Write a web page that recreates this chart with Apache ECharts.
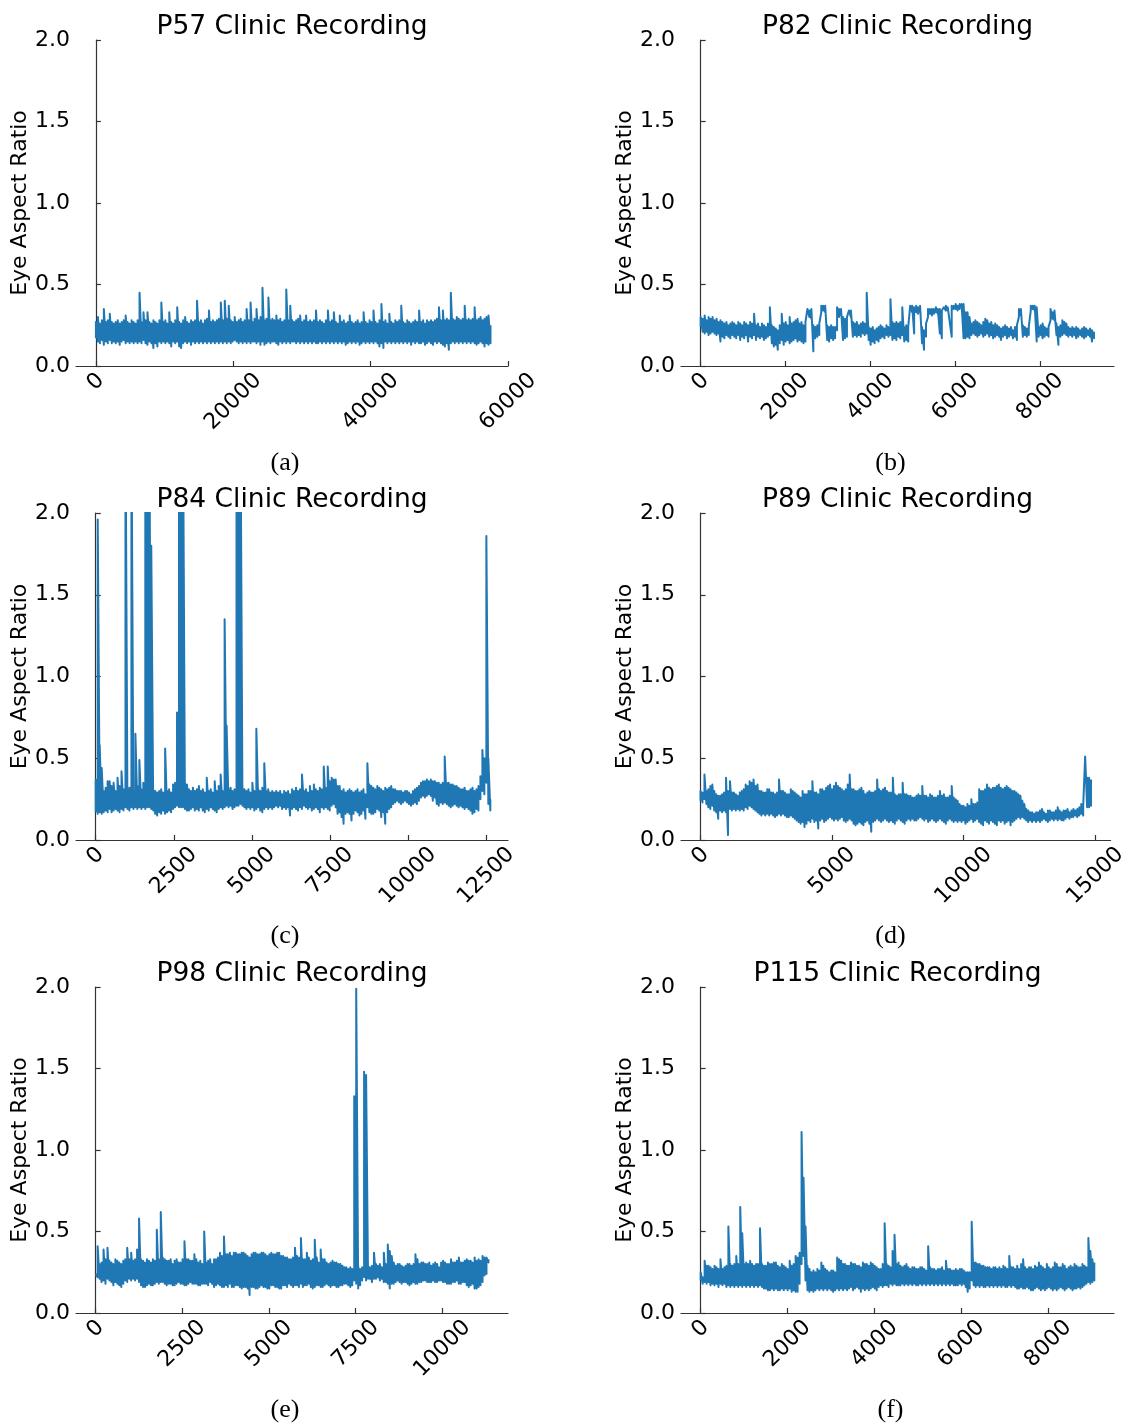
<!DOCTYPE html>
<html>
<head>
<meta charset="utf-8">
<title>Clinic Recordings - Eye Aspect Ratio</title>
<script src="https://cdn.jsdelivr.net/npm/echarts@6/dist/echarts.min.js"></script>
<style>
  html, body { margin: 0; padding: 0; background: #fff; }
  #chart { width: 1130px; height: 1425px; }
</style>
</head>
<body>
<div id="chart"></div>
<script>
// Eye aspect ratio per recording, summarised in 200 equal time bins:
// *Lo = lowest value in the bin, *Hi = highest value in the bin.
const p57Lo = [
  0.17,0.15,0.14,0.16,0.13,0.15,0.14,0.16,0.14,0.15, 0.14,0.15,0.13,0.15,0.16,0.14,0.15,0.14,0.15,0.14,
  0.15,0.14,0.15,0.14,0.16,0.14,0.13,0.15,0.14,0.11, 0.14,0.12,0.15,0.14,0.15,0.14,0.15,0.14,0.12,0.15,
  0.14,0.15,0.12,0.11,0.14,0.15,0.14,0.15,0.13,0.15, 0.14,0.15,0.14,0.15,0.14,0.15,0.14,0.15,0.14,0.15,
  0.14,0.15,0.14,0.15,0.14,0.15,0.14,0.15,0.14,0.15, 0.16,0.15,0.14,0.15,0.14,0.15,0.14,0.15,0.14,0.15,
  0.15,0.14,0.15,0.13,0.15,0.13,0.14,0.15,0.14,0.15, 0.15,0.14,0.13,0.15,0.14,0.15,0.14,0.15,0.14,0.15,
  0.15,0.14,0.15,0.14,0.15,0.14,0.15,0.14,0.15,0.14, 0.15,0.14,0.14,0.15,0.14,0.15,0.14,0.15,0.14,0.15,
  0.14,0.15,0.14,0.15,0.14,0.15,0.13,0.14,0.15,0.14, 0.15,0.14,0.15,0.13,0.14,0.15,0.14,0.15,0.14,0.15,
  0.14,0.15,0.14,0.12,0.14,0.11,0.15,0.14,0.15,0.14, 0.15,0.14,0.15,0.14,0.15,0.14,0.15,0.14,0.15,0.13,
  0.15,0.14,0.15,0.14,0.14,0.15,0.13,0.14,0.15,0.14, 0.13,0.15,0.14,0.15,0.14,0.13,0.12,0.14,0.10,0.14,
  0.15,0.14,0.15,0.14,0.15,0.14,0.15,0.14,0.15,0.14, 0.15,0.14,0.13,0.14,0.15,0.14,0.12,0.14,0.13,0.14
];
const p57Hi = [
  0.27,0.30,0.26,0.28,0.35,0.27,0.28,0.32,0.27,0.26, 0.27,0.28,0.26,0.27,0.28,0.31,0.27,0.26,0.28,0.27,
  0.26,0.28,0.45,0.27,0.33,0.28,0.33,0.27,0.26,0.28, 0.27,0.26,0.28,0.39,0.27,0.28,0.26,0.33,0.27,0.26,
  0.28,0.36,0.27,0.26,0.28,0.30,0.27,0.26,0.28,0.27, 0.28,0.40,0.27,0.28,0.26,0.28,0.29,0.34,0.27,0.28,
  0.27,0.28,0.29,0.39,0.28,0.40,0.29,0.37,0.28,0.27, 0.30,0.27,0.28,0.29,0.27,0.28,0.35,0.28,0.39,0.27,
  0.29,0.35,0.28,0.30,0.48,0.28,0.29,0.42,0.28,0.29, 0.28,0.31,0.28,0.29,0.27,0.28,0.47,0.28,0.37,0.28,
  0.27,0.28,0.29,0.31,0.27,0.28,0.31,0.27,0.28,0.27, 0.28,0.34,0.27,0.28,0.27,0.26,0.28,0.34,0.27,0.28,
  0.33,0.27,0.26,0.31,0.27,0.28,0.26,0.27,0.31,0.27, 0.26,0.27,0.28,0.26,0.27,0.33,0.27,0.26,0.28,0.27,
  0.34,0.27,0.26,0.28,0.38,0.27,0.28,0.26,0.32,0.27, 0.26,0.28,0.27,0.28,0.37,0.27,0.26,0.28,0.27,0.26,
  0.27,0.28,0.27,0.34,0.27,0.28,0.26,0.28,0.27,0.28, 0.27,0.28,0.29,0.36,0.28,0.34,0.28,0.29,0.28,0.45,
  0.29,0.28,0.30,0.29,0.28,0.29,0.37,0.28,0.29,0.28, 0.29,0.36,0.28,0.29,0.30,0.28,0.29,0.30,0.31,0.25
];
const p82Lo = [
  0.24,0.21,0.20,0.21,0.19,0.20,0.21,0.20,0.19,0.20, 0.15,0.18,0.17,0.19,0.18,0.17,0.19,0.18,0.17,0.19,
  0.16,0.18,0.17,0.19,0.15,0.18,0.17,0.19,0.16,0.18, 0.17,0.18,0.16,0.17,0.18,0.19,0.14,0.12,0.13,0.10,
  0.14,0.16,0.13,0.15,0.16,0.14,0.15,0.16,0.17,0.15, 0.16,0.15,0.14,0.15,0.28,0.30,0.29,0.09,0.17,0.18,
  0.19,0.33,0.34,0.33,0.16,0.15,0.17,0.16,0.17,0.22, 0.30,0.31,0.16,0.17,0.18,0.29,0.30,0.18,0.19,0.18,
  0.19,0.18,0.20,0.19,0.20,0.16,0.13,0.15,0.14,0.16, 0.15,0.17,0.18,0.17,0.19,0.18,0.19,0.16,0.17,0.16,
  0.18,0.17,0.19,0.15,0.16,0.15,0.25,0.33,0.20,0.33, 0.32,0.33,0.14,0.10,0.18,0.30,0.32,0.31,0.32,0.33,
  0.32,0.20,0.17,0.33,0.34,0.34,0.35,0.18,0.35,0.35, 0.34,0.35,0.36,0.17,0.17,0.18,0.17,0.19,0.20,0.19,
  0.18,0.19,0.20,0.18,0.19,0.20,0.18,0.19,0.17,0.18, 0.19,0.18,0.16,0.18,0.19,0.17,0.18,0.19,0.17,0.18,
  0.16,0.30,0.31,0.18,0.19,0.18,0.19,0.34,0.35,0.34, 0.15,0.18,0.19,0.17,0.18,0.19,0.18,0.28,0.29,0.28,
  0.19,0.13,0.18,0.19,0.20,0.19,0.18,0.19,0.18,0.19, 0.17,0.18,0.19,0.18,0.17,0.18,0.19,0.18,0.15,0.17
];
const p82Hi = [
  0.30,0.29,0.31,0.28,0.30,0.29,0.30,0.28,0.29,0.27, 0.28,0.27,0.26,0.27,0.25,0.26,0.27,0.26,0.25,0.27,
  0.26,0.25,0.27,0.26,0.25,0.27,0.26,0.32,0.25,0.26, 0.24,0.26,0.25,0.24,0.26,0.36,0.25,0.24,0.23,0.22,
  0.25,0.32,0.26,0.27,0.25,0.30,0.26,0.27,0.28,0.29, 0.26,0.27,0.25,0.27,0.35,0.34,0.35,0.25,0.24,0.25,
  0.26,0.37,0.37,0.37,0.25,0.24,0.25,0.24,0.24,0.36, 0.35,0.35,0.30,0.29,0.30,0.34,0.34,0.27,0.26,0.27,
  0.25,0.26,0.27,0.26,0.45,0.24,0.23,0.24,0.22,0.23, 0.24,0.25,0.24,0.23,0.25,0.24,0.41,0.27,0.26,0.27,
  0.26,0.27,0.36,0.24,0.25,0.24,0.37,0.37,0.36,0.37, 0.36,0.37,0.24,0.22,0.26,0.35,0.35,0.35,0.35,0.36,
  0.35,0.35,0.34,0.36,0.37,0.36,0.37,0.37,0.37,0.38, 0.37,0.38,0.38,0.38,0.33,0.33,0.30,0.26,0.27,0.28,
  0.27,0.26,0.25,0.27,0.29,0.28,0.26,0.27,0.25,0.26, 0.25,0.24,0.23,0.24,0.25,0.24,0.23,0.24,0.22,0.24,
  0.25,0.35,0.35,0.25,0.24,0.23,0.24,0.37,0.37,0.37, 0.36,0.24,0.25,0.26,0.24,0.23,0.24,0.35,0.33,0.34,
  0.26,0.24,0.25,0.28,0.27,0.26,0.24,0.23,0.24,0.23, 0.24,0.23,0.22,0.23,0.24,0.23,0.22,0.23,0.22,0.21
];
const p84Lo = [
  0.17,0.16,0.17,0.16,0.17,0.18,0.17,0.19,0.17,0.18, 0.19,0.18,0.17,0.19,0.18,0.20,0.19,0.18,0.20,0.19,
  0.20,0.19,0.20,0.19,0.20,0.19,0.20,0.20,0.19,0.18, 0.16,0.15,0.17,0.16,0.18,0.16,0.17,0.18,0.17,0.19,
  0.20,0.21,0.20,0.20,0.20,0.19,0.18,0.18,0.19,0.20, 0.18,0.19,0.18,0.20,0.18,0.17,0.19,0.18,0.20,0.19,
  0.18,0.17,0.19,0.20,0.19,0.20,0.21,0.20,0.21,0.19, 0.20,0.21,0.21,0.22,0.21,0.20,0.19,0.20,0.19,0.20,
  0.18,0.19,0.20,0.18,0.17,0.19,0.20,0.19,0.20,0.19, 0.20,0.21,0.20,0.21,0.19,0.20,0.19,0.20,0.15,0.19,
  0.20,0.19,0.18,0.20,0.19,0.21,0.20,0.19,0.20,0.18, 0.19,0.20,0.19,0.17,0.20,0.19,0.20,0.19,0.18,0.21,
  0.22,0.20,0.16,0.17,0.14,0.10,0.16,0.17,0.16,0.12, 0.16,0.18,0.17,0.15,0.16,0.18,0.13,0.20,0.17,0.16,
  0.16,0.17,0.19,0.18,0.14,0.17,0.10,0.17,0.19,0.20, 0.22,0.23,0.24,0.23,0.22,0.23,0.24,0.23,0.22,0.21,
  0.22,0.23,0.22,0.24,0.26,0.27,0.26,0.27,0.28,0.27, 0.24,0.26,0.22,0.21,0.23,0.22,0.23,0.22,0.21,0.20,
  0.21,0.22,0.21,0.20,0.21,0.20,0.19,0.20,0.19,0.18, 0.16,0.17,0.19,0.18,0.25,0.30,0.28,0.35,0.22,0.18
];
const p84Hi = [
  0.37,1.96,0.58,0.44,0.30,0.32,0.36,0.36,0.33,0.35, 0.30,0.38,0.33,0.42,0.31,2.60,0.31,0.32,2.60,0.30,
  0.65,0.33,0.49,0.31,0.35,2.60,2.60,2.60,1.80,0.31, 0.30,0.29,0.30,0.31,0.29,0.56,0.30,0.31,0.29,0.34,
  0.35,0.78,2.60,2.60,2.60,0.35,0.34,0.31,0.30,0.32, 0.30,0.31,0.33,0.30,0.31,0.29,0.38,0.30,0.31,0.29,
  0.36,0.30,0.33,0.40,0.30,1.35,0.70,0.31,0.32,0.30, 0.31,2.60,2.60,2.60,0.32,0.31,0.30,0.31,0.29,0.35,
  0.30,0.68,0.31,0.30,0.32,0.47,0.30,0.31,0.29,0.30, 0.29,0.30,0.29,0.30,0.28,0.30,0.29,0.30,0.28,0.31,
  0.30,0.32,0.30,0.31,0.40,0.30,0.31,0.29,0.33,0.30, 0.34,0.31,0.30,0.32,0.31,0.45,0.32,0.45,0.36,0.38,
  0.37,0.37,0.33,0.33,0.30,0.31,0.29,0.30,0.31,0.30, 0.29,0.30,0.31,0.29,0.30,0.31,0.28,0.47,0.34,0.33,
  0.32,0.31,0.33,0.32,0.31,0.30,0.32,0.31,0.32,0.33, 0.31,0.31,0.30,0.30,0.30,0.29,0.30,0.30,0.29,0.28,
  0.30,0.31,0.32,0.33,0.35,0.36,0.36,0.37,0.36,0.37, 0.36,0.36,0.35,0.35,0.34,0.35,0.51,0.35,0.35,0.34,
  0.34,0.33,0.33,0.32,0.31,0.31,0.32,0.30,0.30,0.31, 0.32,0.30,0.31,0.33,0.39,0.55,0.50,1.86,0.50,0.25
];
const p89Lo = [
  0.24,0.23,0.25,0.22,0.20,0.19,0.21,0.18,0.17,0.13, 0.18,0.17,0.18,0.17,0.03,0.19,0.18,0.19,0.18,0.19,
  0.18,0.19,0.18,0.20,0.19,0.21,0.20,0.19,0.18,0.17, 0.16,0.15,0.16,0.15,0.16,0.15,0.16,0.15,0.14,0.15,
  0.16,0.15,0.16,0.15,0.14,0.14,0.15,0.14,0.13,0.12, 0.11,0.10,0.11,0.08,0.10,0.12,0.11,0.13,0.11,0.12,
  0.07,0.12,0.13,0.11,0.12,0.13,0.14,0.13,0.12,0.13, 0.12,0.13,0.14,0.12,0.11,0.12,0.13,0.12,0.10,0.09,
  0.10,0.11,0.10,0.09,0.11,0.12,0.10,0.05,0.11,0.12, 0.13,0.12,0.11,0.12,0.13,0.12,0.11,0.12,0.11,0.10,
  0.12,0.13,0.12,0.11,0.10,0.12,0.13,0.12,0.13,0.12, 0.12,0.13,0.14,0.13,0.12,0.13,0.11,0.12,0.13,0.12,
  0.11,0.12,0.13,0.12,0.11,0.10,0.12,0.13,0.12,0.11, 0.12,0.11,0.12,0.11,0.12,0.10,0.11,0.12,0.13,0.11,
  0.12,0.13,0.11,0.10,0.09,0.12,0.11,0.10,0.12,0.11, 0.10,0.09,0.12,0.11,0.12,0.10,0.11,0.12,0.09,0.11,
  0.12,0.13,0.14,0.13,0.14,0.13,0.12,0.11,0.12,0.11, 0.12,0.11,0.12,0.11,0.12,0.13,0.12,0.11,0.12,0.13,
  0.12,0.13,0.12,0.13,0.12,0.12,0.13,0.14,0.13,0.14, 0.14,0.15,0.14,0.15,0.16,0.15,0.20,0.20,0.20,0.21
];
const p89Hi = [
  0.30,0.29,0.40,0.30,0.31,0.33,0.34,0.30,0.28,0.27, 0.27,0.28,0.29,0.38,0.30,0.36,0.29,0.29,0.28,0.27,
  0.29,0.30,0.31,0.34,0.33,0.36,0.35,0.37,0.33,0.34, 0.30,0.30,0.29,0.29,0.31,0.31,0.29,0.29,0.28,0.29,
  0.37,0.30,0.30,0.29,0.28,0.28,0.31,0.30,0.29,0.28, 0.27,0.26,0.30,0.28,0.28,0.30,0.30,0.36,0.29,0.29,
  0.28,0.31,0.31,0.30,0.32,0.33,0.34,0.31,0.33,0.35, 0.33,0.32,0.31,0.30,0.31,0.34,0.40,0.31,0.31,0.30,
  0.30,0.31,0.32,0.30,0.28,0.29,0.30,0.29,0.29,0.30, 0.37,0.31,0.30,0.31,0.32,0.30,0.29,0.29,0.38,0.28,
  0.27,0.28,0.28,0.35,0.28,0.28,0.27,0.27,0.26,0.26, 0.27,0.28,0.27,0.33,0.27,0.27,0.26,0.28,0.27,0.26,
  0.26,0.27,0.30,0.27,0.28,0.26,0.26,0.27,0.33,0.26, 0.25,0.24,0.22,0.21,0.21,0.20,0.22,0.21,0.25,0.22,
  0.22,0.23,0.31,0.30,0.30,0.31,0.34,0.32,0.31,0.32, 0.32,0.33,0.34,0.32,0.31,0.32,0.33,0.32,0.31,0.30,
  0.30,0.29,0.28,0.27,0.24,0.22,0.19,0.18,0.17,0.17, 0.16,0.17,0.17,0.18,0.19,0.17,0.16,0.18,0.18,0.17,
  0.17,0.18,0.20,0.18,0.17,0.18,0.18,0.19,0.17,0.18, 0.19,0.18,0.19,0.20,0.22,0.21,0.51,0.38,0.38,0.37
];
const p98Lo = [
  0.24,0.22,0.21,0.19,0.20,0.18,0.21,0.20,0.19,0.17, 0.19,0.18,0.17,0.16,0.18,0.20,0.19,0.21,0.20,0.21,
  0.20,0.21,0.19,0.17,0.16,0.16,0.17,0.18,0.17,0.17, 0.18,0.19,0.18,0.19,0.19,0.18,0.17,0.18,0.18,0.17,
  0.17,0.18,0.19,0.18,0.18,0.17,0.17,0.18,0.19,0.18, 0.18,0.18,0.17,0.17,0.18,0.18,0.18,0.17,0.19,0.18,
  0.16,0.17,0.18,0.17,0.16,0.16,0.17,0.16,0.18,0.16, 0.16,0.17,0.17,0.16,0.15,0.16,0.16,0.15,0.11,0.16,
  0.16,0.15,0.15,0.16,0.17,0.16,0.16,0.15,0.15,0.17, 0.17,0.16,0.16,0.15,0.15,0.17,0.17,0.16,0.18,0.17,
  0.16,0.17,0.17,0.16,0.18,0.16,0.17,0.17,0.18,0.16, 0.15,0.16,0.17,0.17,0.16,0.16,0.17,0.18,0.17,0.16,
  0.17,0.17,0.16,0.16,0.17,0.17,0.18,0.18,0.17,0.16, 0.17,0.20,0.18,0.15,0.17,0.20,0.22,0.20,0.21,0.21,
  0.19,0.21,0.21,0.22,0.20,0.21,0.19,0.19,0.18,0.15, 0.18,0.18,0.19,0.20,0.19,0.18,0.19,0.19,0.18,0.17,
  0.18,0.19,0.18,0.18,0.19,0.19,0.20,0.20,0.19,0.19, 0.19,0.20,0.19,0.19,0.20,0.20,0.19,0.19,0.18,0.18,
  0.18,0.19,0.19,0.20,0.18,0.18,0.19,0.19,0.17,0.16, 0.17,0.18,0.15,0.15,0.16,0.17,0.19,0.23,0.24,0.31
];
const p98Hi = [
  0.25,0.41,0.30,0.31,0.39,0.33,0.40,0.32,0.31,0.30, 0.33,0.32,0.31,0.30,0.32,0.33,0.40,0.33,0.37,0.32,
  0.33,0.39,0.58,0.33,0.32,0.31,0.33,0.32,0.31,0.33, 0.32,0.51,0.33,0.62,0.34,0.33,0.32,0.32,0.33,0.30,
  0.32,0.33,0.31,0.31,0.33,0.44,0.33,0.33,0.32,0.32, 0.36,0.33,0.31,0.32,0.30,0.50,0.31,0.32,0.33,0.30,
  0.33,0.33,0.34,0.37,0.35,0.47,0.36,0.36,0.37,0.35, 0.37,0.37,0.36,0.36,0.37,0.37,0.36,0.35,0.34,0.36,
  0.37,0.37,0.36,0.36,0.37,0.37,0.36,0.35,0.36,0.37, 0.36,0.36,0.37,0.37,0.35,0.35,0.34,0.34,0.33,0.33,
  0.34,0.40,0.35,0.34,0.46,0.33,0.33,0.37,0.34,0.32, 0.33,0.45,0.34,0.31,0.39,0.33,0.33,0.31,0.30,0.31,
  0.32,0.31,0.31,0.30,0.30,0.29,0.28,0.28,0.27,0.28, 0.27,1.33,1.99,0.29,0.27,0.28,1.48,1.46,0.29,0.28,
  0.29,0.37,0.30,0.29,0.30,0.28,0.37,0.30,0.42,0.38, 0.35,0.31,0.29,0.30,0.30,0.29,0.28,0.29,0.30,0.30,
  0.29,0.30,0.36,0.33,0.30,0.31,0.31,0.30,0.30,0.31, 0.29,0.30,0.31,0.30,0.28,0.31,0.32,0.31,0.30,0.30,
  0.33,0.31,0.31,0.32,0.34,0.31,0.31,0.32,0.33,0.32, 0.32,0.31,0.34,0.32,0.33,0.32,0.35,0.34,0.34,0.33
];
const p115Lo = [
  0.20,0.18,0.19,0.18,0.19,0.17,0.18,0.17,0.18,0.16, 0.18,0.17,0.18,0.16,0.17,0.16,0.17,0.16,0.17,0.16,
  0.17,0.16,0.17,0.16,0.17,0.16,0.17,0.16,0.17,0.16, 0.17,0.16,0.15,0.15,0.14,0.14,0.15,0.14,0.15,0.14,
  0.14,0.15,0.14,0.15,0.14,0.15,0.13,0.14,0.13,0.13, 0.18,0.30,0.35,0.20,0.14,0.13,0.14,0.13,0.14,0.15,
  0.14,0.15,0.14,0.15,0.14,0.15,0.14,0.13,0.14,0.15, 0.14,0.15,0.14,0.15,0.14,0.15,0.16,0.14,0.15,0.16,
  0.15,0.13,0.15,0.14,0.15,0.14,0.15,0.16,0.15,0.14, 0.16,0.17,0.16,0.17,0.17,0.16,0.18,0.17,0.18,0.17,
  0.17,0.17,0.18,0.17,0.18,0.17,0.18,0.17,0.18,0.17, 0.17,0.18,0.17,0.18,0.17,0.18,0.17,0.18,0.17,0.18,
  0.17,0.18,0.17,0.18,0.17,0.18,0.17,0.18,0.17,0.17, 0.17,0.18,0.17,0.18,0.16,0.13,0.15,0.20,0.17,0.16,
  0.17,0.16,0.17,0.16,0.16,0.17,0.16,0.17,0.16,0.17, 0.16,0.17,0.16,0.17,0.16,0.16,0.17,0.16,0.17,0.16,
  0.15,0.15,0.16,0.15,0.15,0.16,0.15,0.14,0.14,0.15, 0.16,0.15,0.14,0.15,0.14,0.15,0.16,0.15,0.14,0.15,
  0.14,0.15,0.16,0.15,0.14,0.15,0.16,0.15,0.14,0.15, 0.15,0.16,0.15,0.16,0.17,0.18,0.19,0.18,0.19,0.20
];
const p115Hi = [
  0.25,0.22,0.32,0.29,0.29,0.28,0.27,0.29,0.28,0.27, 0.33,0.27,0.28,0.29,0.53,0.30,0.29,0.30,0.35,0.30,
  0.65,0.49,0.30,0.31,0.30,0.32,0.30,0.29,0.30,0.30, 0.52,0.30,0.29,0.29,0.31,0.30,0.30,0.31,0.31,0.29,
  0.28,0.30,0.29,0.28,0.27,0.32,0.29,0.30,0.35,0.34, 0.37,1.11,0.83,0.53,0.29,0.27,0.25,0.26,0.25,0.27,
  0.26,0.31,0.29,0.27,0.26,0.25,0.26,0.26,0.25,0.34, 0.33,0.32,0.30,0.30,0.29,0.29,0.31,0.30,0.30,0.29,
  0.29,0.28,0.31,0.30,0.30,0.29,0.31,0.30,0.29,0.28, 0.27,0.27,0.30,0.55,0.30,0.29,0.28,0.38,0.48,0.30,
  0.31,0.29,0.28,0.29,0.30,0.28,0.27,0.28,0.28,0.27, 0.27,0.28,0.28,0.27,0.26,0.41,0.28,0.27,0.27,0.26,
  0.27,0.27,0.28,0.26,0.32,0.27,0.27,0.26,0.26,0.27, 0.26,0.27,0.27,0.26,0.25,0.25,0.25,0.56,0.31,0.31,
  0.30,0.30,0.29,0.29,0.28,0.28,0.28,0.27,0.28,0.28, 0.27,0.28,0.27,0.29,0.28,0.27,0.35,0.28,0.28,0.27,
  0.29,0.27,0.30,0.33,0.28,0.27,0.28,0.28,0.27,0.29, 0.28,0.31,0.29,0.28,0.27,0.30,0.28,0.27,0.28,0.31,
  0.30,0.28,0.28,0.30,0.29,0.27,0.28,0.29,0.28,0.30, 0.29,0.28,0.28,0.30,0.29,0.28,0.46,0.38,0.33,0.31
];

// Number of video frames in each recording
const p57Frames = 57450;
const p82Frames = 9266;
const p84Frames = 12634;
const p89Frames = 14836;
const p98Frames = 11327;
const p115Frames = 9060;

// Frame-axis tick labels
const p57Ticks = [0, 20000, 40000, 60000];
const p82Ticks = [0, 2000, 4000, 6000, 8000];
const p84Ticks = [0, 2500, 5000, 7500, 10000, 12500];
const p89Ticks = [0, 5000, 10000, 15000];
const p98Ticks = [0, 2500, 5000, 7500, 10000];
const p115Ticks = [0, 2000, 4000, 6000, 8000];

// Ratio-axis tick labels
const earTicks = [0, 0.5, 1.0, 1.5, 2.0];

const panelTitles = ['P57 Clinic Recording', 'P82 Clinic Recording', 'P84 Clinic Recording',
                     'P89 Clinic Recording', 'P98 Clinic Recording', 'P115 Clinic Recording'];
const panelCaptions = ['(a)', '(b)', '(c)', '(d)', '(e)', '(f)'];

const panelLo = [p57Lo, p82Lo, p84Lo, p89Lo, p98Lo, p115Lo];
const panelHi = [p57Hi, p82Hi, p84Hi, p89Hi, p98Hi, p115Hi];
const panelFrames = [p57Frames, p82Frames, p84Frames, p89Frames, p98Frames, p115Frames];
const panelTicks = [p57Ticks, p82Ticks, p84Ticks, p89Ticks, p98Ticks, p115Ticks];

// ---- layout & styling ----
const SANS = 'DejaVu Sans';
const SERIF = 'Liberation Serif';
const LINE_BLUE = '#1f77b4';
const SPINE = '#333333';
const TICK_FONT = 22;
const DIGIT_W = 0.636 * TICK_FONT;

// plot boxes in pixels
const boxes = [
  { left: 76,  top: 40,  width: 432, height: 326, xMin: -2900, xMax: 60000 },
  { left: 681, top: 40,  width: 433, height: 326, xMin: -464,  xMax: 9737 },
  { left: 76,  top: 513, width: 432, height: 327, xMin: -632,  xMax: 13200 },
  { left: 681, top: 513, width: 433, height: 327, xMin: -742,  xMax: 15578 },
  { left: 76,  top: 987, width: 432, height: 326, xMin: -566,  xMax: 11890 },
  { left: 681, top: 987, width: 433, height: 326, xMin: -453,  xMax: 9513 }
];

// rotated frame labels are centred under their tick; longer labels sit lower
const tickRich = {};
for (let n = 1; n <= 6; n++) {
  const p = Math.round(0.5 * n * DIGIT_W);
  tickRich['n' + n] = { fontFamily: SANS, fontSize: TICK_FONT, color: '#000', padding: [p, p, 0, 0] };
}

// trace each bin as a stroke from its minimum up to its maximum; the path then
// drops to the next bin's minimum, so every segment spans the bin's full range
function binnedTrace(lo, hi, frames) {
  const pts = [];
  const n = lo.length;
  for (let i = 0; i < n; i++) {
    const x = i * frames / (n - 1);
    pts.push([x, lo[i]], [x, hi[i]]);
  }
  return pts;
}

const grids = [], xAxes = [], yAxes = [], series = [], titles = [];

boxes.forEach((b, k) => {
  grids.push({ left: b.left, top: b.top, width: b.width, height: b.height, containLabel: false });

  const ticks = panelTicks[k];
  xAxes.push({
    type: 'value', gridIndex: k, min: b.xMin, max: b.xMax,
    axisLine: { show: true, onZero: false, lineStyle: { color: SPINE, width: 1.2 } },
    axisTick: { show: true, inside: true, length: 5, customValues: ticks, lineStyle: { color: SPINE, width: 1.2 } },
    axisLabel: {
      show: true, customValues: ticks, rotate: 45, align: 'center', verticalAlign: 'middle', margin: 11,
      fontFamily: SANS, fontSize: TICK_FONT, color: '#000',
      formatter: v => '{n' + String(v).length + '|' + v + '}',
      rich: tickRich
    },
    splitLine: { show: false }
  });

  yAxes.push({
    type: 'value', gridIndex: k, min: earTicks[0], max: earTicks[earTicks.length - 1], interval: 0.5,
    name: 'Eye Aspect Ratio', nameLocation: 'middle', nameGap: 43, nameRotate: 90,
    nameTextStyle: { fontFamily: SANS, fontSize: TICK_FONT, color: '#000' },
    axisLine: { show: true, lineStyle: { color: SPINE, width: 1.2 } },
    axisTick: { show: true, inside: true, length: 5, lineStyle: { color: SPINE, width: 1.2 } },
    axisLabel: { margin: 6, fontFamily: SANS, fontSize: TICK_FONT, color: '#000', formatter: v => v.toFixed(1) },
    splitLine: { show: false }
  });

  series.push({
    type: 'line', xAxisIndex: k, yAxisIndex: k,
    data: binnedTrace(panelLo[k], panelHi[k], panelFrames[k]),
    showSymbol: false, symbol: 'none', clip: true,
    lineStyle: { color: LINE_BLUE, width: 2, join: 'round' },
    emphasis: { disabled: true }
  });

  titles.push({
    text: panelTitles[k], left: b.left + b.width / 2, top: b.top - 26, textAlign: 'center', padding: 0,
    textStyle: { fontFamily: SANS, fontSize: 26.5, fontWeight: 'normal', color: '#000' }
  });
  titles.push({
    text: panelCaptions[k], left: b.left + b.width / 2 - 7, top: b.top + 410, textAlign: 'center', padding: 0,
    textStyle: { fontFamily: SERIF, fontSize: 26, fontWeight: 'normal', color: '#000' }
  });
});

const chart = echarts.init(document.getElementById('chart'), null, { renderer: 'canvas' });
chart.setOption({
  animation: false,
  backgroundColor: '#fff',
  title: titles,
  grid: grids,
  xAxis: xAxes,
  yAxis: yAxes,
  series: series
});
</script>
</body>
</html>
